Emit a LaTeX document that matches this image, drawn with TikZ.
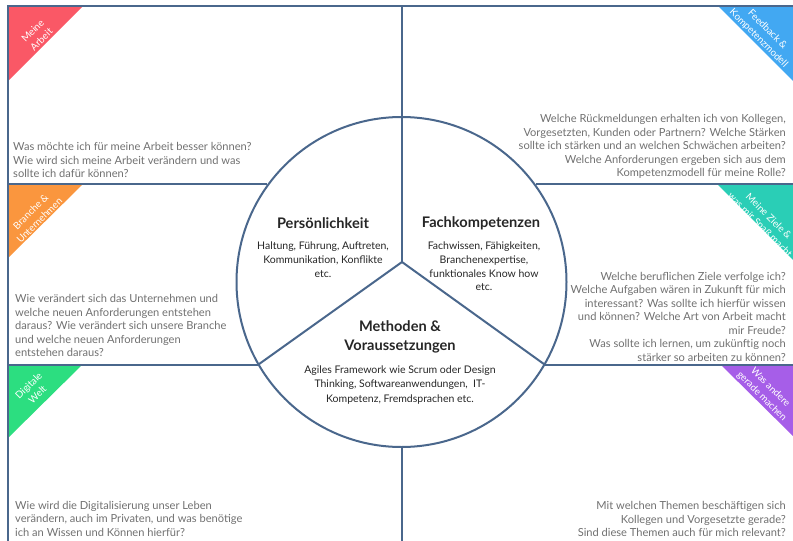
\documentclass[tikz,border=0pt]{standalone}
\usepackage{fontspec}
\setmainfont{Lato}
\usetikzlibrary{positioning}
\definecolor{frameblue}{RGB}{74,103,140}
\definecolor{textgray}{RGB}{112,112,112}
\definecolor{tagred}{RGB}{250,88,102}
\definecolor{tagorange}{RGB}{250,150,62}
\definecolor{taggreen}{RGB}{44,222,128}
\definecolor{tagblue}{RGB}{66,168,242}
\definecolor{tagteal}{RGB}{42,206,182}
\definecolor{tagpurple}{RGB}{166,94,232}

\begin{document}
\begin{tikzpicture}
[x=1pt,y=-1pt,align=center,node distance=13pt]
\tikzstyle{line}=[draw=frameblue,line width=2pt]
\tikzstyle{question}=[inner sep=0pt,text=textgray,font=\fontsize{11.1}{13.5}\selectfont]
\tikzstyle{head}=[inner sep=0pt,text=black!85,font=\fontsize{14.6}{19}\selectfont\bfseries]
\tikzstyle{detail}=[inner sep=0pt,text=black!85,font=\fontsize{10.5}{13.7}\selectfont]
\tikzstyle{tag}=[inner sep=0pt,text=white,font=\fontsize{9.8}{12.3}\selectfont]

\useasboundingbox (0,0) rectangle (793,541);
\clip (0,0) rectangle (793,541);

\coordinate (tl) at (8,6);
\coordinate (tr) at (793,6);
\coordinate (bl) at (8,541);
\coordinate (hub) at (402,262);

% coloured corners
\fill [tagred] (8,6) -- (83,6) -- (8,81) -- cycle;
\fill [tagorange] (8,185) -- (82,185) -- (8,258) -- cycle;
\fill [taggreen] (8,364) -- (83,364) -- (8,438) -- cycle;
\fill [tagblue] (718,6) -- (793,6) -- (793,81) -- cycle;
\fill [tagteal] (718,185) -- (793,185) -- (793,260) -- cycle;
\fill [tagpurple] (720,364) -- (793,364) -- (793,436) -- cycle;

\node [tag,rotate=45] (tagarbeit) at (37,35) {Meine\\Arbeit};
\node [tag,rotate=45] (tagbranche) at (35,216) {Branche \&\\Unternehmen};
\node [tag,rotate=45] (tagdigital) at (33,390) {Digitale\\Welt};
\node [tag,rotate=-45] (tagfeedback) at (763,34) {Feedback \&\\Kompetenzmodell};
\node [tag,rotate=-45] (tagziele) at (764,221) {Meine Ziele \&\\was mir Spaß macht};
\node [tag,rotate=-45] (taganders) at (766,392) {Was andere\\gerade machen};

% frame and wheel
\node [line,circle,minimum size=330pt,inner sep=0pt] (ring) at (401.5,282) {};
\draw [line] (bl) -- (tl) -- (tr);
\draw [line] (ring.144) -- (ring.144 -| tl);
\draw [line] (ring.210) -- (ring.210 -| tl);
\draw [line] (ring.36) -- (ring.36 -| tr);
\draw [line] (ring.330) -- (ring.330 -| tr);
\draw [line] (hub) -- (hub |- tl);
\draw [line] (hub) -- (ring.210);
\draw [line] (hub) -- (ring.330);
\draw [line] (ring.south) -- (ring.south |- bl);

% questions
\node [question,anchor=north west,align=left] (arbeit) at (13,142.5)
{Was möchte ich für meine Arbeit besser können?\\Wie wird sich meine Arbeit verändern und was\\sollte ich dafür können?};
\node [question,anchor=north east,align=right] (feedback) at (786,114.5)
{Welche Rückmeldungen erhalten ich von Kollegen,\\Vorgesetzten, Kunden oder Partnern? Welche Stärken\\sollte ich stärken und an welchen Schwächen arbeiten?\\Welche Anforderungen ergeben sich aus dem\\Kompetenzmodell für meine Rolle?};
\node [question,anchor=north west,align=left] (branche) at (15,294.5)
{Wie verändert sich das Unternehmen und\\welche neuen Anforderungen entstehen\\daraus? Wie verändert sich unsere Branche\\und welche neuen Anforderungen\\entstehen daraus?};
\node [question,anchor=north east,align=right] (ziele) at (786,272)
{Welche beruflichen Ziele verfolge ich?\\Welche Aufgaben wären in Zukunft für mich\\interessant? Was sollte ich hierfür wissen\\und können? Welche Art von Arbeit macht\\mir Freude?\\Was sollte ich lernen, um zukünftig noch\\stärker so arbeiten zu können?};
\node [question,anchor=north west,align=left] (digital) at (15,501)
{Wie wird die Digitalisierung unser Leben\\verändern, auch im Privaten, und was benötige\\ich an Wissen und Können hierfür?};
\node [question,anchor=north east,align=right] (andere) at (786,501.5)
{Mit welchen Themen beschäftigen sich\\Kollegen und Vorgesetzte gerade?\\Sind diese Themen auch für mich relevant?};

% wheel texts
\node [head] (pers) at (323,223) {Persönlichkeit};
\node [detail,below=of pers] (persinfo) {Haltung, Führung, Auftreten,\\Kommunikation, Konflikte\\etc.};
\node [head] (fach) at (481,223) {Fachkompetenzen};
\node [detail,below=12pt of fach,xshift=3pt] (fachinfo) {Fachwissen, Fähigkeiten,\\Branchenexpertise,\\funktionales Know how\\etc.};
\node [head] (meth) at (400,337) {Methoden \&\\Voraussetzungen};
\node [detail,below=12pt of meth,font=\fontsize{10.5}{14.5}\selectfont] (methinfo) {Agiles Framework wie Scrum oder Design\\Thinking, Softwareanwendungen,~ IT-\\Kompetenz, Fremdsprachen etc.};

\end{tikzpicture}
\end{document}
